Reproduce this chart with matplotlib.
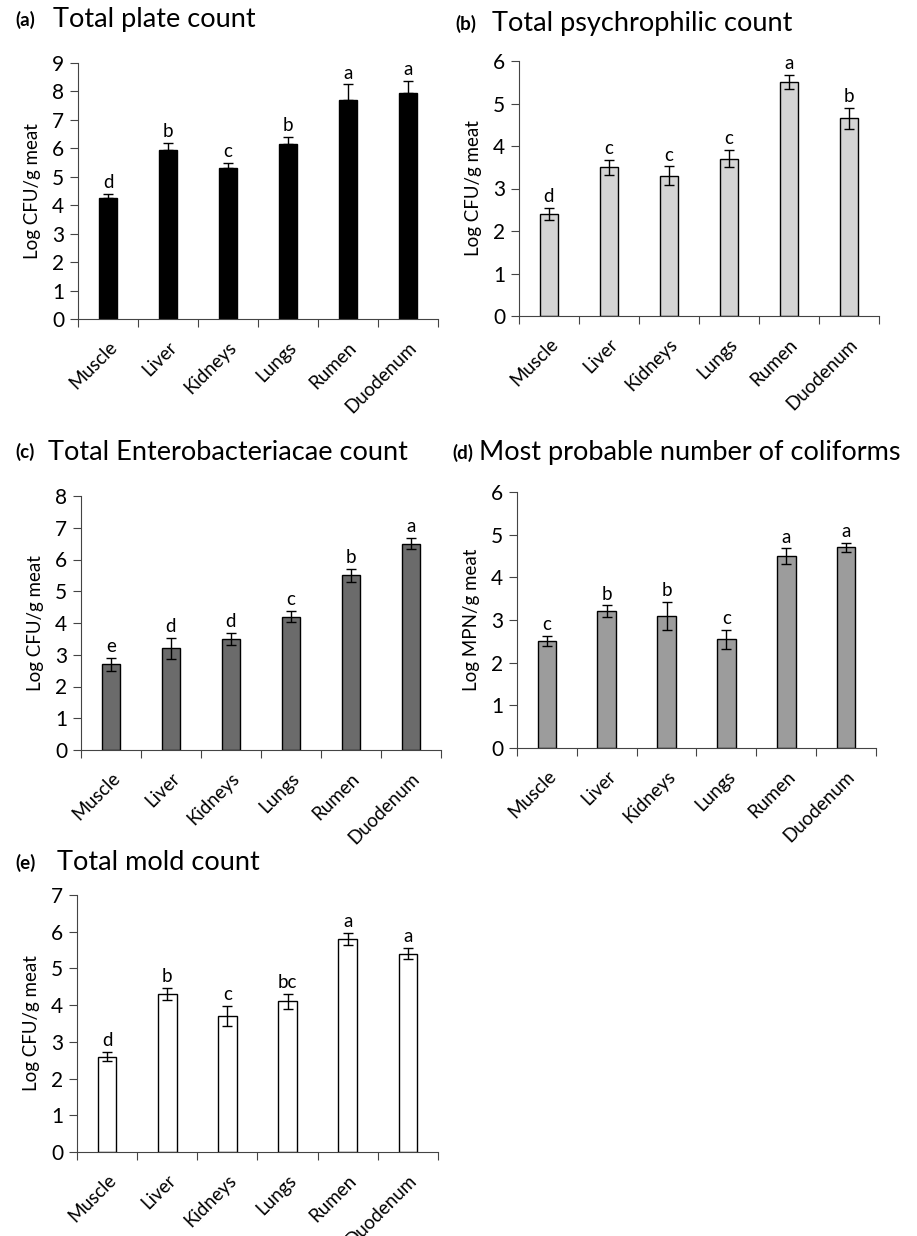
import matplotlib.pyplot as plt
import matplotlib.transforms as mtransforms

plt.rcParams['font.family'] = ['Lato', 'DejaVu Sans']

# data
organs = ["Muscle", "Liver", "Kidneys", "Lungs", "Rumen", "Duodenum"]

plate = [4.25, 5.95, 5.3, 6.15, 7.7, 7.95]
plate_err = [0.15, 0.25, 0.2, 0.25, 0.55, 0.42]
plate_sig = ["d", "b", "c", "b", "a", "a"]

psychro = [2.4, 3.5, 3.3, 3.7, 5.5, 4.65]
psychro_err = [0.15, 0.18, 0.22, 0.2, 0.17, 0.25]
psychro_sig = ["d", "c", "c", "c", "a", "b"]

entero = [2.7, 3.2, 3.5, 4.2, 5.5, 6.5]
entero_err = [0.2, 0.33, 0.2, 0.17, 0.2, 0.18]
entero_sig = ["e", "d", "d", "c", "b", "a"]

coliform = [2.5, 3.2, 3.1, 2.55, 4.5, 4.7]
coliform_err = [0.12, 0.14, 0.33, 0.22, 0.18, 0.1]
coliform_sig = ["c", "b", "b", "c", "a", "a"]

mold = [2.6, 4.3, 3.7, 4.1, 5.8, 5.4]
mold_err = [0.12, 0.17, 0.27, 0.2, 0.17, 0.15]
mold_sig = ["d", "b", "c", "bc", "a", "a"]

W, H = 917, 1236
fig = plt.figure(figsize=(W / 100, H / 100), dpi=100)


def px_axes(left, right, bottom, top):
    return fig.add_axes([left / W, 1 - bottom / H, (right - left) / W, (bottom - top) / H])


def panel(ax, vals, errs, sig, color, ymax, ylabel, one_sided=False):
    x = range(len(vals))
    if one_sided:
        yerr = [[0] * len(errs), errs]
    else:
        yerr = errs
    ax.bar(x, vals, width=0.31, color=color, edgecolor='black', linewidth=1.0, zorder=2)
    ax.errorbar(x, vals, yerr=yerr, fmt='none', ecolor='black', elinewidth=1.0,
                capsize=3.5, capthick=1.0, zorder=3)
    for i in x:
        ax.annotate(sig[i], (i, vals[i] + errs[i]), xytext=(0, 2), textcoords='offset points',
                    ha='center', va='bottom', fontsize=13.5)
    ax.set_xlim(-0.5, len(vals) - 0.5)
    ax.set_ylim(0, ymax)
    ax.set_yticks(range(0, ymax + 1))
    ax.set_xticks([i - 0.5 for i in range(len(vals) + 1)])
    ax.set_xticklabels([])
    ax.set_xticks(list(x), minor=True)
    ax.set_xticklabels(organs, minor=True, rotation=45, ha='right', rotation_mode='anchor',
                       fontsize=13.5)
    shift = mtransforms.ScaledTranslation(8 / 100, 0, fig.dpi_scale_trans)
    for lab in ax.get_xticklabels(minor=True):
        lab.set_transform(lab.get_transform() + shift)
    ax.tick_params(axis='x', which='minor', length=0, pad=14)
    ax.tick_params(axis='x', which='major', length=6, direction='out', color='#444444')
    ax.tick_params(axis='y', length=6, direction='out', labelsize=15, color='#444444', pad=4)
    ax.spines['top'].set_visible(False)
    ax.spines['right'].set_visible(False)
    ax.spines['left'].set_color('#444444')
    ax.spines['bottom'].set_color('#444444')
    ax.set_ylabel(ylabel, fontsize=13.5, labelpad=8)


def title(x_lab, x_txt, y, lab, txt):
    fig.text(x_lab / W, 1 - y / H, lab, fontsize=13.5, fontweight='bold', va='center')
    fig.text(x_txt / W, 1 - y / H, txt, fontsize=19.5, va='center')


ax1 = px_axes(78, 438, 319, 63)
panel(ax1, plate, plate_err, plate_sig, 'black', 9, "Log CFU/g meat", one_sided=True)
title(15, 53, 20, "(a)", "Total plate count")

ax2 = px_axes(519, 879, 316, 61)
panel(ax2, psychro, psychro_err, psychro_sig, '#d4d4d4', 6, "Log CFU/g meat")
title(455, 492, 24, "(b)", "Total psychrophilic count")

ax3 = px_axes(81, 441, 750, 496)
panel(ax3, entero, entero_err, entero_sig, '#6b6b6b', 8, "Log CFU/g meat")
title(15, 48, 452, "(c)", "Total Enterobacteriacae count")

ax4 = px_axes(517, 876, 748, 492)
panel(ax4, coliform, coliform_err, coliform_sig, '#9c9c9c', 6, "Log MPN/g meat")
title(452, 479, 453, "(d)", "Most probable number of coliforms")

ax5 = px_axes(77, 438, 1152, 895)
panel(ax5, mold, mold_err, mold_sig, 'white', 7, "Log CFU/g meat")
title(15, 57, 863, "(e)", "Total mold count")

fig.savefig("out.png", dpi=100)
